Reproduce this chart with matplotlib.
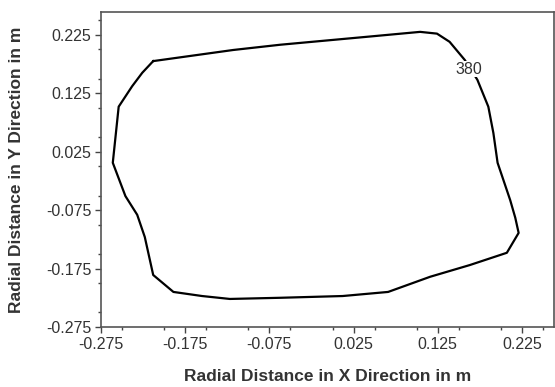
import numpy as np
import matplotlib
matplotlib.use("Agg")
import matplotlib.pyplot as plt
from matplotlib.ticker import MultipleLocator

plt.rcParams['font.family'] = ['Liberation Sans', 'DejaVu Sans']

# ---------------------------------------------------------------------------
# Contour line (level 380), clockwise from top-left
# ---------------------------------------------------------------------------
contour_x = [-0.213, -0.118, -0.062, 0.044, 0.104, 0.124, 0.139, 0.157, 0.172,
             0.185, 0.191, 0.196, 0.211, 0.217, 0.221, 0.207, 0.163, 0.116,
             0.066, 0.012, -0.062, -0.122, -0.155, -0.189, -0.213, -0.223,
             -0.232, -0.246, -0.261, -0.254, -0.238, -0.226, -0.213]
contour_y = [0.180, 0.199, 0.208, 0.222, 0.230, 0.227, 0.213, 0.182, 0.148,
             0.102, 0.057, 0.006, -0.058, -0.088, -0.114, -0.148, -0.169, -0.189,
             -0.215, -0.222, -0.225, -0.227, -0.222, -0.215, -0.186, -0.121,
             -0.083, -0.051, 0.006, 0.102, 0.137, 0.160, 0.180]
level_label = "380"
label_pos = (0.162, 0.166)

xticks = [-0.275, -0.175, -0.075, 0.025, 0.125, 0.225]
yticks = [-0.275, -0.175, -0.075, 0.025, 0.125, 0.225]

fig = plt.figure(figsize=(5.55, 3.87), dpi=100)
ax = fig.add_axes([101 / 555, 60 / 387, 453 / 555, 315 / 387])

ax.plot(contour_x, contour_y, color="black", lw=1.6, solid_joinstyle="round")
ax.text(label_pos[0], label_pos[1], level_label, ha="center", va="center",
        fontsize=11.5, color="#333333",
        bbox=dict(facecolor="white", edgecolor="none", pad=0.3))

ax.set_xlim(-0.275, 0.263)
ax.set_ylim(-0.275, 0.264)
ax.set_xticks(xticks)
ax.set_yticks(yticks)
ax.set_xticklabels([f"{v:.3f}" for v in xticks])
ax.set_yticklabels([f"{v:.3f}" for v in yticks])
ax.xaxis.set_minor_locator(MultipleLocator(0.05))
ax.yaxis.set_minor_locator(MultipleLocator(0.05))
ax.tick_params(which="major", direction="out", length=4, width=1, pad=3,
               labelsize=11.5, colors="#444444", labelcolor="#333333")
ax.tick_params(which="minor", direction="out", length=2, width=1, colors="#444444")
for s in ax.spines.values():
    s.set_color("#555555")
    s.set_linewidth(1.2)

ax.set_xlabel("Radial Distance in X Direction in m", fontsize=12.5,
              fontweight="bold", color="#333333")
ax.set_ylabel("Radial Distance in Y Direction in m", fontsize=12.5,
              fontweight="bold", color="#333333")
ax.xaxis.set_label_coords(0.5, -42 / 315)
ax.yaxis.set_label_coords(-77 / 453, 0.5)

fig.savefig("out.png", dpi=100)
